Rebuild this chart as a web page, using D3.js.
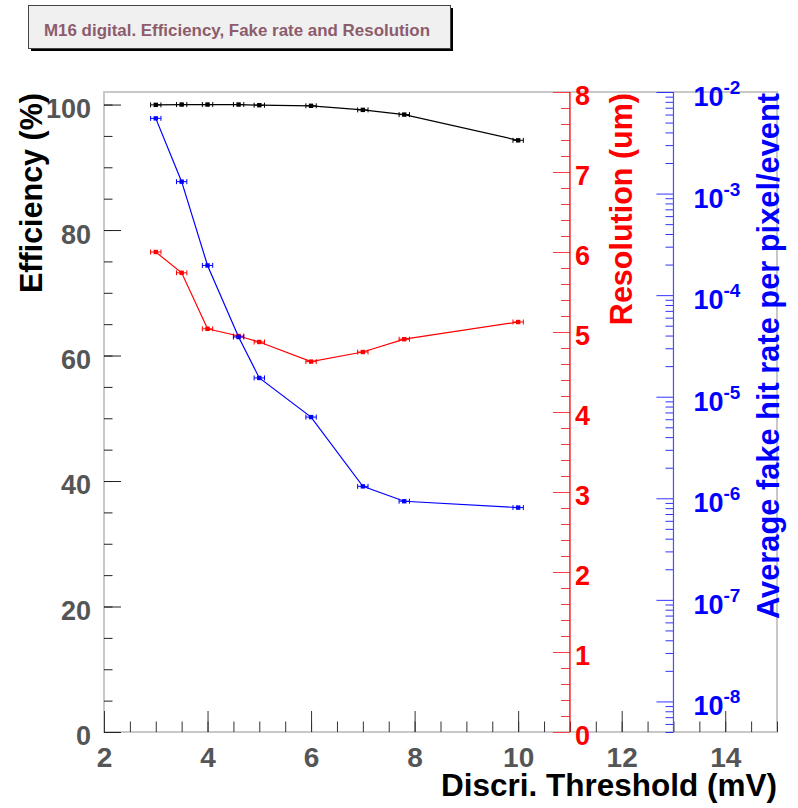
<!DOCTYPE html>
<html><head><meta charset="utf-8">
<script src="https://cdn.jsdelivr.net/npm/d3@7"></script>
<style>
html,body{margin:0;padding:0;background:#fff;}
svg{display:block;font-family:"Liberation Sans",Arial,Helvetica,sans-serif;font-weight:bold;}
</style></head>
<body><svg id="c" width="798" height="808"></svg>
<script>
// ---- data ----
const thresholds = [3, 3.5, 4, 4.6, 5, 6, 7, 7.8, 10];          // mV
const thresholdErr = [0.1, 0.1, 0.1, 0.1, 0.1, 0.1, 0.1, 0.1, 0.1];
const efficiency = [99.95, 100.0, 100.0, 100.0, 99.9, 99.8, 99.15, 98.4, 94.3]; // %
const resolution = [6.0, 5.74, 5.04, 4.95, 4.875, 4.63, 4.75, 4.91, 5.125];   // um
const fakeRate = [5.5e-3, 1.31e-3, 1.96e-4, 3.87e-5, 1.53e-5, 6.3e-6, 1.31e-6, 9.35e-7, 8.1e-7];
const titleText = "M16 digital. Efficiency, Fake rate and Resolution";
const xTitle = "Discri. Threshold (mV)";
const effTitle = "Efficiency (%)";
const resTitle = "Resolution (um)";
const fakeTitle = "Average fake hit rate per pixel/event";
const xDomain = [2, 15];
const effDomain = [0, 102];
const resDomain = [0, 8];
const fakeDomain = [5e-9, 1e-2];
const resAxisAt = 11, fakeAxisAt = 13;

const svg = d3.select("#c");
const L = 104, R = 777, T = 92, B = 732;
const x = d3.scaleLinear(xDomain, [L, R]);
const yEff = d3.scaleLinear(effDomain, [B, T]);
const yRes = d3.scaleLinear(resDomain, [B, T]);
const yFake = d3.scaleLog(fakeDomain, [B, T]);
const labelGray = "#555";
const tickFont = 27;

// ---- title box ----
const tb = svg.append("g");
tb.append("rect").attr("x", 31).attr("y", 8).attr("width", 422).attr("height", 43).attr("fill", "#000");
tb.append("rect").attr("x", 28.5).attr("y", 5.5).attr("width", 422).attr("height", 43)
  .attr("fill", "#f0f0f0").attr("stroke", "#444").attr("stroke-width", 1);
tb.append("text").attr("x", 237).attr("y", 36).attr("text-anchor", "middle")
  .attr("font-size", 16.5).attr("textLength", 386).attr("lengthAdjust", "spacingAndGlyphs")
  .attr("fill", "#8c5c6c").text(titleText);

// ---- frame ----
svg.append("rect").attr("x", L).attr("y", T).attr("width", R - L).attr("height", B - T)
  .attr("fill", "none").attr("stroke", "#c8c8c8").attr("stroke-width", 2);

function styleAxis(g, color, fsize) {
  g.select(".domain").remove();
  g.selectAll("line").attr("stroke", color).attr("stroke-width", 1);
  g.selectAll("text").attr("font-size", fsize).attr("font-family", null);
}

// ---- bottom x axis ----
const xMinor = svg.append("g").attr("transform", `translate(0,${B})`)
  .call(d3.axisBottom(x).ticks(26).tickSizeInner(-10.5).tickSizeOuter(0).tickFormat(""));
styleAxis(xMinor, "#333", tickFont);
const xMajor = svg.append("g").attr("transform", `translate(0,${B})`)
  .call(d3.axisBottom(x).ticks(7).tickSizeInner(-21).tickSizeOuter(0).tickPadding(15).tickFormat(d3.format("d")));
styleAxis(xMajor, "#333", 28);
xMajor.selectAll("text").attr("fill", labelGray);

// ---- left efficiency axis ----
const eMinor = svg.append("g").attr("transform", `translate(${L},0)`)
  .call(d3.axisLeft(yEff).tickValues(d3.range(0, 101, 5)).tickSizeInner(-8.5).tickSizeOuter(0).tickFormat(""));
styleAxis(eMinor, "#222", tickFont);
const eMajor = svg.append("g").attr("transform", `translate(${L},0)`)
  .call(d3.axisLeft(yEff).tickValues(d3.range(0, 101, 20)).tickSizeInner(-17).tickSizeOuter(0).tickPadding(13));
styleAxis(eMajor, "#222", tickFont);
eMajor.selectAll("text").attr("fill", labelGray).attr("dy", "0.48em");

// ---- right resolution axis (red) ----
const rx = x(resAxisAt);
const rMinor = svg.append("g").attr("transform", `translate(${rx},0)`)
  .call(d3.axisRight(yRes).tickValues(d3.range(0, 8.01, 0.2)).tickSizeInner(-9).tickSizeOuter(0).tickFormat(""));
styleAxis(rMinor, "#ff4040", tickFont);
const rMajor = svg.append("g").attr("transform", `translate(${rx},0)`)
  .call(d3.axisRight(yRes).ticks(8).tickSizeInner(-17).tickSizeOuter(0).tickPadding(5).tickFormat(d3.format("d")));
styleAxis(rMajor, "#ff4040", tickFont);
rMajor.selectAll("text").attr("fill", "#f00").attr("dy", "0.48em");
svg.append("line").attr("x1", rx).attr("x2", rx).attr("y1", T).attr("y2", B).attr("stroke", "#f00").attr("stroke-width", 1.3);
svg.append("text").attr("transform", `translate(${632},${T + 1}) rotate(-90)`)
  .attr("text-anchor", "end").attr("font-size", 30.5).attr("fill", "#f00").text(resTitle);

// ---- right fake rate axis (blue, log) ----
const bx = x(fakeAxisAt);
const decades = d3.range(-8, -1).map(e => Math.pow(10, e));
const fakeMinorVals = yFake.ticks().filter(v => !decades.some(d => Math.abs(d - v) / d < 1e-6));
const bMinor = svg.append("g").attr("transform", `translate(${bx},0)`)
  .call(d3.axisRight(yFake).tickValues(fakeMinorVals).tickSizeInner(-8).tickSizeOuter(0).tickFormat(""));
styleAxis(bMinor, "#3333ff", tickFont);
const bMajor = svg.append("g").attr("transform", `translate(${bx},0)`)
  .call(d3.axisRight(yFake).tickValues(decades).tickSizeInner(-17).tickSizeOuter(0).tickPadding(20).tickFormat(""));
styleAxis(bMajor, "#3333ff", tickFont);
bMajor.selectAll(".tick text").each(function(d) {
  const t = d3.select(this).attr("fill", "#00f").attr("dy", "0.5em").attr("font-size", 27);
  t.text("");
  t.append("tspan").text("10");
  t.append("tspan").attr("font-size", 19).attr("dy", -12).text(String(Math.round(Math.log10(d))));
});
svg.append("line").attr("x1", bx).attr("x2", bx).attr("y1", T).attr("y2", B).attr("stroke", "#4d4dff").attr("stroke-width", 1.2);
svg.append("text").attr("transform", `translate(${779},${T + 1}) rotate(-90)`)
  .attr("text-anchor", "end").attr("font-size", 30.8).attr("fill", "#00f").text(fakeTitle);

// ---- axis titles ----
svg.append("text").attr("transform", `translate(${42},${T + 1}) rotate(-90)`)
  .attr("text-anchor", "end").attr("font-size", 30.5).attr("fill", "#000").text(effTitle);
svg.append("text").attr("x", R).attr("y", 796).attr("text-anchor", "end")
  .attr("font-size", 31.5).attr("fill", "#000").text(xTitle);

// ---- series ----
function drawSeries(vals, yScale, color) {
  const pts = thresholds.map((t, i) => ({x: t, xe: thresholdErr[i], y: vals[i]}));
  const g = svg.append("g");
  g.append("path").datum(pts)
    .attr("d", d3.line().x(d => x(d.x)).y(d => yScale(d.y)))
    .attr("fill", "none").attr("stroke", color).attr("stroke-width", 1.2);
  const e = g.selectAll(".pt").data(pts).join("g");
  e.append("line").attr("x1", d => x(d.x - d.xe)).attr("x2", d => x(d.x + d.xe))
    .attr("y1", d => yScale(d.y)).attr("y2", d => yScale(d.y)).attr("stroke", color).attr("stroke-width", 1);
  e.append("line").attr("x1", d => x(d.x - d.xe)).attr("x2", d => x(d.x - d.xe))
    .attr("y1", d => yScale(d.y) - 2.5).attr("y2", d => yScale(d.y) + 2.5).attr("stroke", color).attr("stroke-width", 1);
  e.append("line").attr("x1", d => x(d.x + d.xe)).attr("x2", d => x(d.x + d.xe))
    .attr("y1", d => yScale(d.y) - 2.5).attr("y2", d => yScale(d.y) + 2.5).attr("stroke", color).attr("stroke-width", 1);
  e.append("rect").attr("x", d => x(d.x) - 2.2).attr("y", d => yScale(d.y) - 2.2)
    .attr("width", 4.4).attr("height", 4.4).attr("fill", color);
}
drawSeries(efficiency, yEff, "#000");
drawSeries(resolution, yRes, "#f00");
drawSeries(fakeRate, yFake, "#00f");
</script></body></html>
